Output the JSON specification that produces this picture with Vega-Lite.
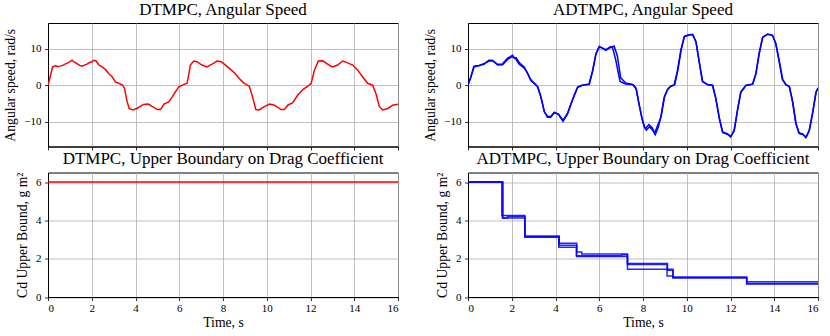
{
  "$schema": "https://vega.github.io/schema/vega-lite/v6.json",
  "padding": {"left": 3, "top": 0, "right": 5, "bottom": 0},
  "config": {
    "font": "Liberation Serif",
    "view": {"stroke": "#000000", "strokeWidth": 1},
    "style": {
      "guide-label": {"font": "Liberation Serif", "fontSize": 11, "fill": "#000000"},
      "guide-title": {"font": "Liberation Serif", "fontSize": 13.7, "fontWeight": "normal", "fill": "#000000"}
    },
    "axis": {
      "grid": true, "gridColor": "#b0b0b0", "gridWidth": 0.8,
      "domainColor": "#000000", "domainWidth": 1,
      "tickColor": "#000000", "tickSize": 3.5, "tickWidth": 0.8,
      "labelFont": "Liberation Serif", "labelFontSize": 11, "labelColor": "#000000",
      "titleFont": "Liberation Serif", "titleFontSize": 13.7, "titleFontWeight": "normal", "titleColor": "#000000"
    },
    "axisX": {"labelPadding": 1.5, "titlePadding": 2.5},
    "axisY": {"labelPadding": 3.5, "titlePadding": 6},
    "title": {"font": "Liberation Serif", "fontSize": 17, "fontWeight": "normal", "color": "#000000", "offset": 4.5}
  },
  "datasets": {
    "dtmpc_speed": [
      {"t": 0, "v": 0}, {"t": 0.1, "v": 2.3}, {"t": 0.21, "v": 5.0}, {"t": 0.33, "v": 5.3}, {"t": 0.45, "v": 5.1}, {"t": 0.55, "v": 5.2},
      {"t": 0.67, "v": 5.4}, {"t": 0.78, "v": 5.75}, {"t": 0.9, "v": 6.1}, {"t": 1.02, "v": 6.5}, {"t": 1.1, "v": 6.8}, {"t": 1.17, "v": 6.4}, {"t": 1.33, "v": 5.9}, {"t": 1.45, "v": 5.4}, {"t": 1.55, "v": 5.2},
      {"t": 1.78, "v": 5.75}, {"t": 1.9, "v": 6.2}, {"t": 2.0, "v": 6.4}, {"t": 2.1, "v": 6.8}, {"t": 2.2, "v": 6.6}, {"t": 2.32, "v": 5.5}, {"t": 2.47, "v": 5.0}, {"t": 2.62, "v": 4.3},
      {"t": 2.77, "v": 3.2}, {"t": 2.93, "v": 2.3}, {"t": 3.08, "v": 0.9}, {"t": 3.23, "v": 0.5}, {"t": 3.41, "v": 0}, {"t": 3.5, "v": -0.9},
      {"t": 3.6, "v": -4.1}, {"t": 3.71, "v": -6.4}, {"t": 3.87, "v": -6.8}, {"t": 4.06, "v": -6.4}, {"t": 4.2, "v": -5.9}, {"t": 4.36, "v": -5.3}, {"t": 4.58, "v": -5.2},
      {"t": 4.78, "v": -5.9}, {"t": 5.0, "v": -6.7}, {"t": 5.14, "v": -6.7}, {"t": 5.3, "v": -5.2}, {"t": 5.52, "v": -4.6}, {"t": 5.68, "v": -3.2},
      {"t": 5.83, "v": -1.8}, {"t": 5.98, "v": -0.5}, {"t": 6.14, "v": 0}, {"t": 6.36, "v": 0.5}, {"t": 6.51, "v": 5.5}, {"t": 6.66, "v": 6.6},
      {"t": 6.81, "v": 6.4}, {"t": 7.04, "v": 5.5}, {"t": 7.27, "v": 5.0}, {"t": 7.5, "v": 5.75}, {"t": 7.73, "v": 6.6}, {"t": 7.91, "v": 6.4},
      {"t": 8.06, "v": 5.75}, {"t": 8.29, "v": 4.6}, {"t": 8.52, "v": 3.4}, {"t": 8.74, "v": 1.8}, {"t": 8.97, "v": 0.5}, {"t": 9.2, "v": -0.3},
      {"t": 9.35, "v": -3.2}, {"t": 9.5, "v": -6.7}, {"t": 9.65, "v": -6.8}, {"t": 9.89, "v": -5.9}, {"t": 10.12, "v": -5.2}, {"t": 10.35, "v": -5.5},
      {"t": 10.65, "v": -6.7}, {"t": 10.8, "v": -6.7}, {"t": 10.96, "v": -5.5}, {"t": 11.19, "v": -4.8}, {"t": 11.42, "v": -2.7}, {"t": 11.65, "v": -1.2},
      {"t": 11.88, "v": -0.3}, {"t": 12.03, "v": 0.5}, {"t": 12.18, "v": 4.1}, {"t": 12.36, "v": 6.6}, {"t": 12.55, "v": 6.7}, {"t": 12.78, "v": 5.75},
      {"t": 13.0, "v": 5.0}, {"t": 13.24, "v": 5.5}, {"t": 13.47, "v": 6.6}, {"t": 13.7, "v": 6.1}, {"t": 13.93, "v": 5.5}, {"t": 14.16, "v": 4.1},
      {"t": 14.38, "v": 2.3}, {"t": 14.61, "v": 0.5}, {"t": 14.84, "v": 0}, {"t": 14.99, "v": -2.3}, {"t": 15.15, "v": -5.9}, {"t": 15.3, "v": -6.8},
      {"t": 15.53, "v": -6.4}, {"t": 15.76, "v": -5.5}, {"t": 16.0, "v": -5.2}
    ],
    "adtmpc_speed": [
      {"run": "a", "t": 0, "v": 0}, {"run": "a", "t": 0.12, "v": 2.0}, {"run": "a", "t": 0.27, "v": 5.2}, {"run": "a", "t": 0.5, "v": 5.4},
      {"run": "a", "t": 0.73, "v": 5.7}, {"run": "a", "t": 0.95, "v": 6.8}, {"run": "a", "t": 1.11, "v": 6.8}, {"run": "a", "t": 1.2, "v": 6.4},
      {"run": "a", "t": 1.34, "v": 5.7}, {"run": "a", "t": 1.57, "v": 5.8}, {"run": "a", "t": 1.8, "v": 7.3}, {"run": "a", "t": 2.03, "v": 8.2},
      {"run": "a", "t": 2.1, "v": 7.6}, {"run": "a", "t": 2.18, "v": 7.2}, {"run": "a", "t": 2.33, "v": 5.8}, {"run": "a", "t": 2.56, "v": 4.7},
      {"run": "a", "t": 2.71, "v": 3.4}, {"run": "a", "t": 2.86, "v": 1.6}, {"run": "a", "t": 3.02, "v": 0.6}, {"run": "a", "t": 3.17, "v": -0.3},
      {"run": "a", "t": 3.32, "v": -3.0}, {"run": "a", "t": 3.48, "v": -7.1}, {"run": "a", "t": 3.63, "v": -8.8}, {"run": "a", "t": 3.78, "v": -8.8},
      {"run": "a", "t": 3.93, "v": -7.6}, {"run": "a", "t": 4.13, "v": -7.9}, {"run": "a", "t": 4.34, "v": -9.9}, {"run": "a", "t": 4.54, "v": -8.0},
      {"run": "a", "t": 4.7, "v": -5.3}, {"run": "a", "t": 4.85, "v": -3.0}, {"run": "a", "t": 5.0, "v": -0.7}, {"run": "a", "t": 5.2, "v": -0.1},
      {"run": "a", "t": 5.53, "v": 0.2}, {"run": "a", "t": 5.69, "v": 3.8}, {"run": "a", "t": 5.84, "v": 8.4}, {"run": "a", "t": 5.99, "v": 10.4},
      {"run": "a", "t": 6.14, "v": 10.2}, {"run": "a", "t": 6.3, "v": 9.5}, {"run": "a", "t": 6.48, "v": 10.2}, {"run": "a", "t": 6.68, "v": 10.7},
      {"run": "a", "t": 6.83, "v": 7.9}, {"run": "a", "t": 6.98, "v": 2.0}, {"run": "a", "t": 7.21, "v": 0.6}, {"run": "a", "t": 7.52, "v": 0.2},
      {"run": "a", "t": 7.67, "v": -0.7}, {"run": "a", "t": 7.82, "v": -5.3}, {"run": "a", "t": 7.95, "v": -9.0}, {"run": "a", "t": 8.05, "v": -11.2},
      {"run": "a", "t": 8.12, "v": -11.9}, {"run": "a", "t": 8.27, "v": -10.8}, {"run": "a", "t": 8.43, "v": -11.7}, {"run": "a", "t": 8.53, "v": -13.1},
      {"run": "a", "t": 8.66, "v": -11.2}, {"run": "a", "t": 8.81, "v": -8.9}, {"run": "a", "t": 8.96, "v": -3.5}, {"run": "a", "t": 9.12, "v": -1.2},
      {"run": "a", "t": 9.27, "v": -0.3}, {"run": "a", "t": 9.42, "v": 0}, {"run": "a", "t": 9.57, "v": 3.8}, {"run": "a", "t": 9.72, "v": 9.3},
      {"run": "a", "t": 9.88, "v": 13.2}, {"run": "a", "t": 10.1, "v": 13.7}, {"run": "a", "t": 10.26, "v": 13.9}, {"run": "a", "t": 10.41, "v": 12.1},
      {"run": "a", "t": 10.56, "v": 6.6}, {"run": "a", "t": 10.71, "v": 1.1}, {"run": "a", "t": 10.94, "v": 0.2}, {"run": "a", "t": 11.17, "v": 0},
      {"run": "a", "t": 11.32, "v": -3.5}, {"run": "a", "t": 11.48, "v": -8.9}, {"run": "a", "t": 11.63, "v": -12.8}, {"run": "a", "t": 11.86, "v": -13.3},
      {"run": "a", "t": 12.0, "v": -14.2}, {"run": "a", "t": 12.16, "v": -12.6}, {"run": "a", "t": 12.31, "v": -7.1}, {"run": "a", "t": 12.46, "v": -2.1},
      {"run": "a", "t": 12.7, "v": -0.1}, {"run": "a", "t": 13.0, "v": 0.2}, {"run": "a", "t": 13.15, "v": 2.9}, {"run": "a", "t": 13.3, "v": 8.4},
      {"run": "a", "t": 13.46, "v": 13.0}, {"run": "a", "t": 13.69, "v": 13.9}, {"run": "a", "t": 13.91, "v": 13.7}, {"run": "a", "t": 14.06, "v": 11.6},
      {"run": "a", "t": 14.22, "v": 6.6}, {"run": "a", "t": 14.37, "v": 1.6}, {"run": "a", "t": 14.52, "v": 0.2}, {"run": "a", "t": 14.68, "v": -0.3},
      {"run": "a", "t": 14.83, "v": -4.4}, {"run": "a", "t": 14.98, "v": -10.3}, {"run": "a", "t": 15.13, "v": -13.1}, {"run": "a", "t": 15.29, "v": -13.3},
      {"run": "a", "t": 15.44, "v": -14.4}, {"run": "a", "t": 15.59, "v": -12.6}, {"run": "a", "t": 15.74, "v": -8.0}, {"run": "a", "t": 15.9, "v": -2.1},
      {"run": "a", "t": 16.0, "v": -0.7},

      {"run": "b", "t": 0, "v": 0}, {"run": "b", "t": 0.13, "v": 2.2}, {"run": "b", "t": 0.28, "v": 5.0}, {"run": "b", "t": 0.5, "v": 5.3},
      {"run": "b", "t": 0.74, "v": 5.9}, {"run": "b", "t": 0.96, "v": 6.6}, {"run": "b", "t": 1.12, "v": 6.6}, {"run": "b", "t": 1.22, "v": 6.2},
      {"run": "b", "t": 1.36, "v": 5.5}, {"run": "b", "t": 1.58, "v": 5.6}, {"run": "b", "t": 1.82, "v": 7.1}, {"run": "b", "t": 2.05, "v": 7.9},
      {"run": "b", "t": 2.12, "v": 7.3}, {"run": "b", "t": 2.2, "v": 7.5}, {"run": "b", "t": 2.36, "v": 6.0}, {"run": "b", "t": 2.58, "v": 4.9},
      {"run": "b", "t": 2.73, "v": 3.1}, {"run": "b", "t": 2.88, "v": 1.2}, {"run": "b", "t": 3.04, "v": 0.4}, {"run": "b", "t": 3.19, "v": -0.5},
      {"run": "b", "t": 3.34, "v": -3.4}, {"run": "b", "t": 3.5, "v": -7.5}, {"run": "b", "t": 3.65, "v": -8.6}, {"run": "b", "t": 3.8, "v": -8.5},
      {"run": "b", "t": 3.95, "v": -7.4}, {"run": "b", "t": 4.15, "v": -8.1}, {"run": "b", "t": 4.35, "v": -9.6}, {"run": "b", "t": 4.56, "v": -7.6},
      {"run": "b", "t": 4.72, "v": -4.9}, {"run": "b", "t": 4.87, "v": -2.6}, {"run": "b", "t": 5.02, "v": -0.5}, {"run": "b", "t": 5.22, "v": 0},
      {"run": "b", "t": 5.55, "v": 0.3}, {"run": "b", "t": 5.71, "v": 4.2}, {"run": "b", "t": 5.86, "v": 8.8}, {"run": "b", "t": 6.01, "v": 10.6},
      {"run": "b", "t": 6.16, "v": 10.0}, {"run": "b", "t": 6.32, "v": 9.7}, {"run": "b", "t": 6.5, "v": 10.5}, {"run": "b", "t": 6.6, "v": 10.4},
      {"run": "b", "t": 6.75, "v": 7.0}, {"run": "b", "t": 6.95, "v": 1.0}, {"run": "b", "t": 7.2, "v": 0.3}, {"run": "b", "t": 7.55, "v": 0.1},
      {"run": "b", "t": 7.7, "v": -1.2}, {"run": "b", "t": 7.84, "v": -5.8}, {"run": "b", "t": 7.97, "v": -9.5}, {"run": "b", "t": 8.07, "v": -11.6},
      {"run": "b", "t": 8.15, "v": -12.3}, {"run": "b", "t": 8.3, "v": -11.4}, {"run": "b", "t": 8.45, "v": -12.4}, {"run": "b", "t": 8.56, "v": -13.6},
      {"run": "b", "t": 8.7, "v": -11.5}, {"run": "b", "t": 8.84, "v": -8.2}, {"run": "b", "t": 8.99, "v": -3.0}, {"run": "b", "t": 9.15, "v": -0.9},
      {"run": "b", "t": 9.3, "v": -0.2}, {"run": "b", "t": 9.45, "v": 0.1}, {"run": "b", "t": 9.6, "v": 4.3}, {"run": "b", "t": 9.75, "v": 9.8},
      {"run": "b", "t": 9.9, "v": 13.4}, {"run": "b", "t": 10.12, "v": 13.8}, {"run": "b", "t": 10.28, "v": 13.8}, {"run": "b", "t": 10.43, "v": 11.7},
      {"run": "b", "t": 10.58, "v": 6.1}, {"run": "b", "t": 10.73, "v": 0.9}, {"run": "b", "t": 10.96, "v": 0.1}, {"run": "b", "t": 11.19, "v": -0.1},
      {"run": "b", "t": 11.34, "v": -3.9}, {"run": "b", "t": 11.5, "v": -9.3}, {"run": "b", "t": 11.65, "v": -13.0}, {"run": "b", "t": 11.88, "v": -13.5},
      {"run": "b", "t": 12.02, "v": -14.0}, {"run": "b", "t": 12.18, "v": -12.2}, {"run": "b", "t": 12.33, "v": -6.6}, {"run": "b", "t": 12.48, "v": -1.8},
      {"run": "b", "t": 12.72, "v": 0}, {"run": "b", "t": 13.02, "v": 0.3}, {"run": "b", "t": 13.17, "v": 3.3}, {"run": "b", "t": 13.32, "v": 8.8},
      {"run": "b", "t": 13.48, "v": 13.2}, {"run": "b", "t": 13.71, "v": 14.0}, {"run": "b", "t": 13.93, "v": 13.5}, {"run": "b", "t": 14.08, "v": 11.2},
      {"run": "b", "t": 14.24, "v": 6.2}, {"run": "b", "t": 14.39, "v": 1.4}, {"run": "b", "t": 14.54, "v": 0.1}, {"run": "b", "t": 14.7, "v": -0.5},
      {"run": "b", "t": 14.85, "v": -4.8}, {"run": "b", "t": 15.0, "v": -10.7}, {"run": "b", "t": 15.15, "v": -13.3}, {"run": "b", "t": 15.31, "v": -13.5},
      {"run": "b", "t": 15.46, "v": -14.2}, {"run": "b", "t": 15.61, "v": -12.2}, {"run": "b", "t": 15.76, "v": -7.5}, {"run": "b", "t": 15.92, "v": -1.8},
      {"run": "b", "t": 16.0, "v": -0.9}
    ],
    "dtmpc_cd": [
      {"t": 0, "v": 6}, {"t": 16, "v": 6}
    ],
    "adtmpc_cd": [
      {"run": "a", "t": 0, "v": 6}, {"run": "a", "t": 1.55, "v": 4.25}, {"run": "a", "t": 2.6, "v": 3.15}, {"run": "a", "t": 4.17, "v": 2.8},
      {"run": "a", "t": 4.97, "v": 2.35}, {"run": "a", "t": 5.2, "v": 2.25}, {"run": "a", "t": 7.29, "v": 1.75}, {"run": "a", "t": 9.12, "v": 1.4},
      {"run": "a", "t": 9.37, "v": 1.0}, {"run": "a", "t": 12.74, "v": 0.8}, {"run": "a", "t": 16, "v": 0.8},
      {"run": "b", "t": 0, "v": 6}, {"run": "b", "t": 1.6, "v": 4.12}, {"run": "b", "t": 1.8, "v": 4.2}, {"run": "b", "t": 2.6, "v": 3.12},
      {"run": "b", "t": 4.15, "v": 2.6}, {"run": "b", "t": 4.95, "v": 2.15}, {"run": "b", "t": 7.03, "v": 2.2}, {"run": "b", "t": 7.29, "v": 1.45},
      {"run": "b", "t": 9.37, "v": 1.0}, {"run": "b", "t": 12.74, "v": 0.68}, {"run": "b", "t": 16, "v": 0.68},
      {"run": "c", "t": 0, "v": 6}, {"run": "c", "t": 1.57, "v": 4.12}, {"run": "c", "t": 2.6, "v": 3.18}, {"run": "c", "t": 4.17, "v": 2.7},
      {"run": "c", "t": 4.97, "v": 2.12}, {"run": "c", "t": 7.29, "v": 1.7}, {"run": "c", "t": 9.1, "v": 1.1}, {"run": "c", "t": 9.37, "v": 1.05},
      {"run": "c", "t": 12.74, "v": 0.7}, {"run": "c", "t": 16, "v": 0.7}
    ]
  },
  "columns": 2,
  "bounds": "flush",
  "spacing": {"row": 25.5, "column": 70},
  "concat": [
    {
      "title": "DTMPC, Angular Speed",
      "width": 350, "height": 123.5,
      "data": {"name": "dtmpc_speed"},
      "mark": {"type": "line", "color": "#ff0000", "strokeWidth": 1.5, "clip": true},
      "encoding": {
        "x": {"field": "t", "type": "quantitative", "scale": {"domain": [0, 16], "nice": false}, "axis": {"values": [0, 2, 4, 6, 8, 10, 12, 14, 16], "labels": false, "title": null}},
        "y": {"field": "v", "type": "quantitative", "scale": {"domain": [-16.8, 17], "nice": false, "zero": false}, "axis": {"values": [-10, 0, 10], "title": "Angular speed, rad/s", "labelFont": "Liberation Serif"}}
      }
    },
    {
      "title": "ADTMPC, Angular Speed",
      "width": 350, "height": 123.5,
      "data": {"name": "adtmpc_speed"},
      "mark": {"type": "line", "color": "#0000ff", "strokeWidth": 1.5, "clip": true},
      "encoding": {
        "detail": {"field": "run"},
        "x": {"field": "t", "type": "quantitative", "scale": {"domain": [0, 16], "nice": false}, "axis": {"values": [0, 2, 4, 6, 8, 10, 12, 14, 16], "labels": false, "title": null}},
        "y": {"field": "v", "type": "quantitative", "scale": {"domain": [-16.8, 17], "nice": false, "zero": false}, "axis": {"values": [-10, 0, 10], "title": "Angular speed, rad/s", "labelFont": "Liberation Serif"}}
      }
    },
    {
      "title": "DTMPC, Upper Boundary on Drag Coefficient",
      "width": 350, "height": 124.5,
      "data": {"name": "dtmpc_cd"},
      "mark": {"type": "line", "color": "#ff0000", "strokeWidth": 1.5, "clip": true},
      "encoding": {
        "x": {"field": "t", "type": "quantitative", "scale": {"domain": [0, 16], "nice": false}, "axis": {"values": [0, 2, 4, 6, 8, 10, 12, 14, 16], "title": "Time, s", "labelFont": "Liberation Serif"}},
        "y": {"field": "v", "type": "quantitative", "scale": {"domain": [0, 6.5], "nice": false}, "axis": {"values": [0, 2, 4, 6], "title": "Cd Upper Bound, g m²", "labelFont": "Liberation Serif"}}
      }
    },
    {
      "title": "ADTMPC, Upper Boundary on Drag Coefficient",
      "width": 350, "height": 124.5,
      "data": {"name": "adtmpc_cd"},
      "mark": {"type": "line", "color": "#0000ff", "strokeWidth": 1.5, "interpolate": "step-after", "opacity": 0.85, "clip": true},
      "encoding": {
        "detail": {"field": "run"},
        "x": {"field": "t", "type": "quantitative", "scale": {"domain": [0, 16], "nice": false}, "axis": {"values": [0, 2, 4, 6, 8, 10, 12, 14, 16], "title": "Time, s", "labelFont": "Liberation Serif"}},
        "y": {"field": "v", "type": "quantitative", "scale": {"domain": [0, 6.5], "nice": false}, "axis": {"values": [0, 2, 4, 6], "title": "Cd Upper Bound, g m²", "labelFont": "Liberation Serif"}}
      }
    }
  ]
}
